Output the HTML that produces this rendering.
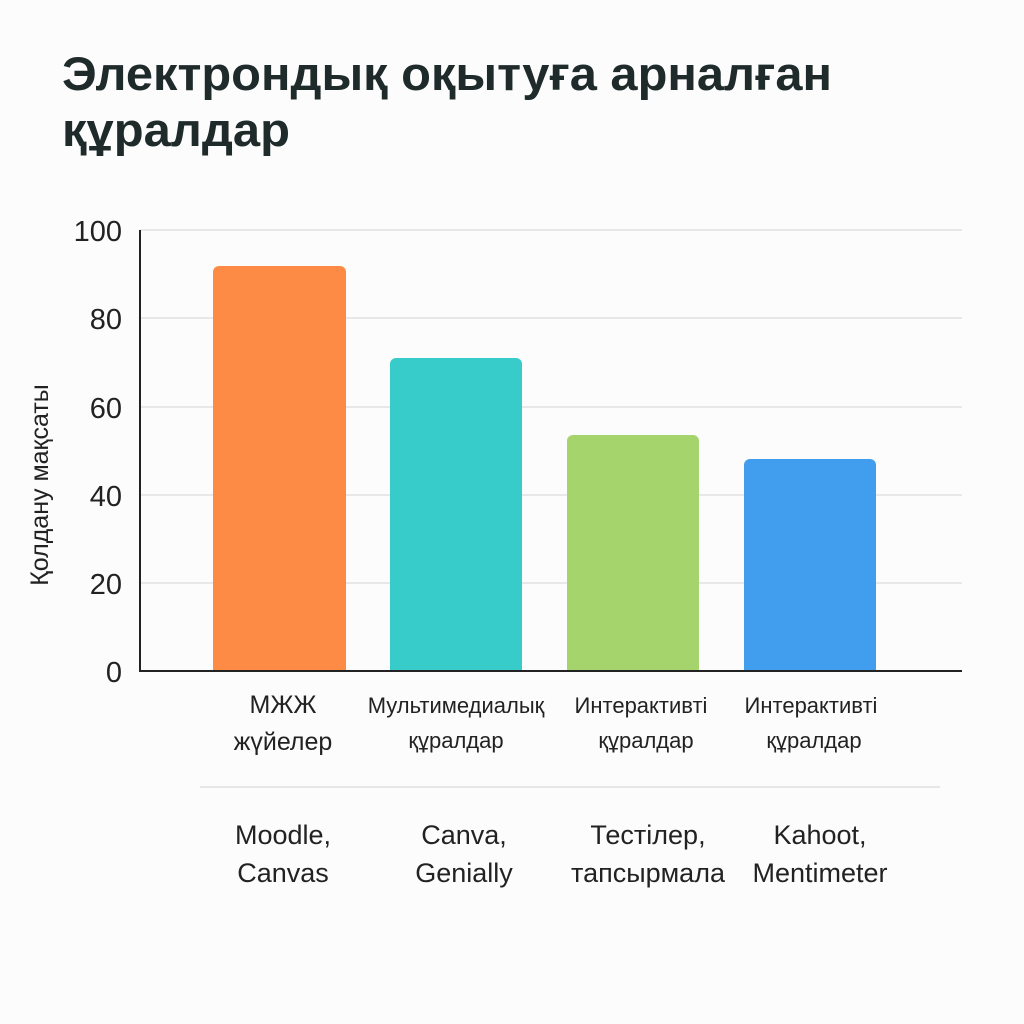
<!DOCTYPE html>
<html><head><meta charset="utf-8"><style>
body{margin:0;background:#fcfcfc;}
svg{display:block;}
text{font-family:"Liberation Sans","DejaVu Sans",sans-serif;}
</style></head><body>
<svg width="1024" height="1024" viewBox="0 0 1024 1024">
<rect width="1024" height="1024" fill="#fcfcfc"/>
<text x="62" y="90" font-size="47" font-weight="bold" fill="#1f2a2a" textLength="770" lengthAdjust="spacingAndGlyphs">Электрондық оқытуға арналған</text>
<text x="62" y="146" font-size="47" font-weight="bold" fill="#1f2a2a" textLength="228" lengthAdjust="spacingAndGlyphs">құралдар</text>
<g stroke="#dcdcdc" stroke-width="1.3">
<line x1="140" y1="230" x2="962" y2="230"/>
<line x1="140" y1="318" x2="962" y2="318"/>
<line x1="140" y1="407" x2="962" y2="407"/>
<line x1="140" y1="495" x2="962" y2="495"/>
<line x1="140" y1="583" x2="962" y2="583"/>
</g>
<g font-size="29" fill="#222" text-anchor="end">
<text x="122" y="241">100</text>
<text x="122" y="329">80</text>
<text x="122" y="418">60</text>
<text x="122" y="506">40</text>
<text x="122" y="594">20</text>
<text x="122" y="682">0</text>
</g>
<text transform="translate(48,485) rotate(-90)" font-size="25" fill="#222" text-anchor="middle">Қолдану мақсаты</text>
<path d="M213,671V272a6,6 0 0 1 6,-6H340a6,6 0 0 1 6,6V671Z" fill="#fd8b45"/>
<path d="M390,671V364a6,6 0 0 1 6,-6H516a6,6 0 0 1 6,6V671Z" fill="#37cbc9"/>
<path d="M567,671V441a6,6 0 0 1 6,-6H693a6,6 0 0 1 6,6V671Z" fill="#a4d46b"/>
<path d="M744,671V465a6,6 0 0 1 6,-6H870a6,6 0 0 1 6,6V671Z" fill="#419ded"/>
<line x1="140" y1="230" x2="140" y2="672" stroke="#222" stroke-width="2"/>
<line x1="139" y1="671" x2="962" y2="671" stroke="#222" stroke-width="2"/>
<g font-size="22" fill="#222" text-anchor="middle">
<text x="283" y="713" font-size="25">МЖЖ</text>
<text x="283" y="750" font-size="25">жүйелер</text>
<text x="456" y="713">Мультимедиалық</text>
<text x="456" y="748">құралдар</text>
<text x="641" y="713">Интерактивті</text>
<text x="646" y="748">құралдар</text>
<text x="811" y="713">Интерактивті</text>
<text x="814" y="748">құралдар</text>
</g>
<line x1="200" y1="787" x2="940" y2="787" stroke="#e0e0e0" stroke-width="1.5"/>
<g font-size="27" fill="#222" text-anchor="middle">
<text x="283" y="844">Moodle,</text>
<text x="283" y="882">Canvas</text>
<text x="464" y="844">Canva,</text>
<text x="464" y="882">Genially</text>
<text x="648" y="844">Тестілер,</text>
<text x="648" y="882">тапсырмала</text>
<text x="820" y="844">Kahoot,</text>
<text x="820" y="882">Mentimeter</text>
</g>
</svg>
</body></html>
